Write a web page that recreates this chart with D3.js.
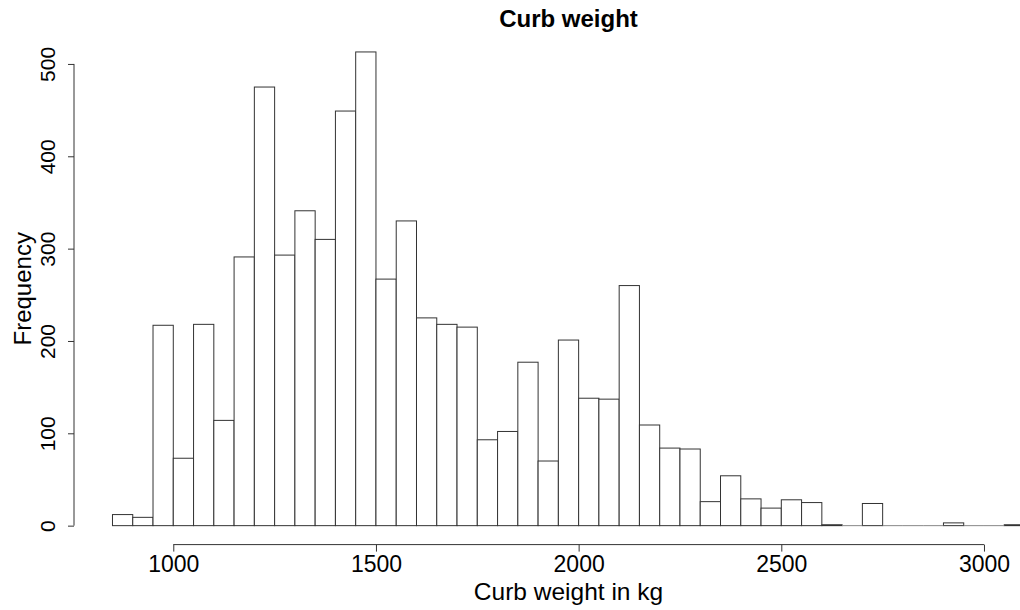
<!DOCTYPE html>
<html>
<head>
<meta charset="utf-8">
<script src="https://cdn.jsdelivr.net/npm/d3@7"></script>
<style>
  body { margin: 0; background: #fff; }
  text { font-family: "Liberation Sans", Arial, sans-serif; fill: #000; }
</style>
</head>
<body>
<div id="vis"></div>
<script>
// histogram bins: lower break of each bin (50 kg wide) and its count
var binStart = [850, 900, 950, 1000, 1050, 1100, 1150, 1200, 1250, 1300,
                1350, 1400, 1450, 1500, 1550, 1600, 1650, 1700, 1750, 1800,
                1850, 1900, 1950, 2000, 2050, 2100, 2150, 2200, 2250, 2300,
                2350, 2400, 2450, 2500, 2550, 2600, 2650, 2700, 2750, 2800,
                2850, 2900, 2950, 3000, 3050];
var counts = [12, 9, 217, 73, 218, 114, 291, 475, 293, 341,
              310, 449, 513, 267, 330, 225, 218, 215, 93, 102,
              177, 70, 201, 138, 137, 260, 109, 84, 83, 26,
              54, 29, 19, 28, 25, 1, 0, 24, 0, 0,
              0, 3, 0, 0, 1];
var binWidth = 50;
var xTicks = [1000, 1500, 2000, 2500, 3000];
var yTicks = [0, 100, 200, 300, 400, 500];

var W = 1020, H = 610;
var plot = {left: 76, right: 1061, top: 33, bottom: 544.6};

var svg = d3.select('#vis')
    .append('svg')
    .attr('width', W)
    .attr('height', H);

// R style: 4% padding around the data range
var x = d3.scaleLinear().domain([760, 3190]).range([plot.left, plot.right]);
var y = d3.scaleLinear().domain([-20.52, 533.52]).range([plot.bottom, plot.top]);

// bars
var bars = svg.append('g');
bars.selectAll('rect')
    .data(counts)
    .enter().append('rect')
    .attr('x', function(d, i) { return x(binStart[i]); })
    .attr('y', function(d) { return y(d); })
    .attr('width', function(d, i) { return x(binStart[i] + binWidth) - x(binStart[i]); })
    .attr('height', function(d) { return y(0) - y(d); })
    .attr('fill', '#fff')
    .attr('stroke', '#333')
    .attr('stroke-width', 1);

// empty bins still get their outline drawn flat on the baseline
bars.selectAll('line.empty')
    .data(counts.map(function(d, i) { return {c: d, i: i}; }).filter(function(d) { return d.c === 0; }))
    .enter().append('line')
    .attr('class', 'empty')
    .attr('x1', function(d) { return x(binStart[d.i]); })
    .attr('x2', function(d) { return x(binStart[d.i] + binWidth); })
    .attr('y1', y(0)).attr('y2', y(0))
    .attr('stroke', '#888');

// x axis (line spans first to last tick only)
var xAxis = svg.append('g')
    .attr('transform', 'translate(0,' + plot.bottom + ')')
    .call(d3.axisBottom(x).tickValues(xTicks).tickFormat(d3.format('d'))
        .tickSize(7).tickPadding(4).tickSizeOuter(0));
xAxis.select('.domain').remove();
xAxis.append('line')
    .attr('x1', x(xTicks[0])).attr('x2', x(xTicks[xTicks.length - 1]))
    .attr('stroke', '#333');
xAxis.selectAll('.tick line').attr('stroke', '#333');
xAxis.selectAll('.tick text')
    .style('font-size', '23px')
    .style('font-family', '"Liberation Sans", Arial, sans-serif')
    .attr('fill', '#000');

// y axis with rotated labels
var yAxis = svg.append('g')
    .attr('transform', 'translate(' + (plot.left - 2) + ',0)')
    .call(d3.axisLeft(y).tickValues(yTicks).tickSize(6).tickFormat(d3.format('d')).tickSizeOuter(0));
yAxis.select('.domain').remove();
yAxis.append('line')
    .attr('y1', y(yTicks[0])).attr('y2', y(yTicks[yTicks.length - 1]))
    .attr('stroke', '#333');
yAxis.selectAll('.tick line').attr('stroke', '#333');
yAxis.selectAll('.tick text')
    .attr('x', null).attr('dy', null)
    .attr('transform', 'translate(-19,0) rotate(-90)')
    .attr('text-anchor', 'middle')
    .style('font-size', '21px')
    .style('font-family', '"Liberation Sans", Arial, sans-serif')
    .attr('fill', '#000');

// title
svg.append('text')
    .attr('x', (plot.left + plot.right) / 2)
    .attr('y', 27)
    .attr('text-anchor', 'middle')
    .style('font-size', '24px')
    .style('font-weight', 'bold')
    .text('Curb weight');

// x label
svg.append('text')
    .attr('x', (plot.left + plot.right) / 2)
    .attr('y', 600)
    .attr('text-anchor', 'middle')
    .style('font-size', '24.5px')
    .text('Curb weight in kg');

// y label
svg.append('text')
    .attr('transform', 'translate(31,' + (plot.top + plot.bottom) / 2 + ') rotate(-90)')
    .attr('text-anchor', 'middle')
    .style('font-size', '24px')
    .text('Frequency');
</script>
</body>
</html>
